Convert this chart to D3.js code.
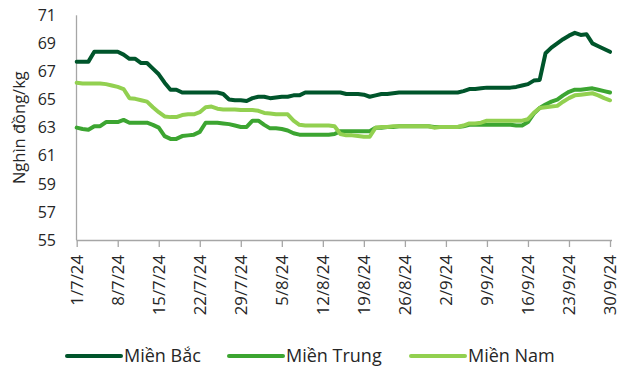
<!DOCTYPE html>
<html>
<head>
<meta charset="utf-8">
<script src="https://cdn.jsdelivr.net/npm/d3@7"></script>
<style>
  html, body { margin: 0; padding: 0; background: #fff; }
  svg { display: block; font-family: "Segoe UI", "Open Sans", "Noto Sans", sans-serif; }
</style>
</head>
<body>
<svg id="chart" width="623" height="368"></svg>
<script>
// Daily pig price by region, 1/7/2024 - 30/9/2024 (thousand VND/kg)
const startDate = new Date(2024, 6, 1);
const dayCount = 92;

const bac = [
  67.7, 67.7, 67.7, 68.4, 68.4, 68.4, 68.4, 68.4, 68.2, 67.9,
  67.9, 67.6, 67.6, 67.2, 66.8, 66.2, 65.7, 65.7, 65.5, 65.5,
  65.5, 65.5, 65.5, 65.5, 65.5, 65.4, 65.0, 64.95, 64.95, 64.9,
  65.1, 65.2, 65.2, 65.1, 65.15, 65.2, 65.2, 65.3, 65.3, 65.5,
  65.5, 65.5, 65.5, 65.5, 65.5, 65.5, 65.4, 65.4, 65.4, 65.35,
  65.2, 65.3, 65.4, 65.4, 65.45, 65.5, 65.5, 65.5, 65.5, 65.5,
  65.5, 65.5, 65.5, 65.5, 65.5, 65.5, 65.6, 65.75, 65.75, 65.8,
  65.85, 65.85, 65.85, 65.85, 65.85, 65.9, 66.0, 66.1, 66.35, 66.4,
  68.3, 68.7, 69.0, 69.3, 69.55, 69.75, 69.6, 69.65, 69.0, 68.8,
  68.6, 68.4
];

const trung = [
  63.0, 62.9, 62.85, 63.1, 63.1, 63.4, 63.4, 63.4, 63.55, 63.35,
  63.35, 63.35, 63.35, 63.2, 63.0, 62.4, 62.2, 62.2, 62.4, 62.45,
  62.5, 62.7, 63.35, 63.35, 63.35, 63.3, 63.25, 63.15, 63.05, 63.05,
  63.5, 63.5, 63.2, 62.95, 62.95, 62.9, 62.8, 62.6, 62.5, 62.5,
  62.5, 62.5, 62.5, 62.5, 62.55, 62.75, 62.75, 62.75, 62.75, 62.75,
  62.75, 63.0, 63.0, 63.05, 63.05, 63.1, 63.1, 63.1, 63.1, 63.1,
  63.1, 63.05, 63.05, 63.05, 63.05, 63.05, 63.1, 63.2, 63.2, 63.2,
  63.2, 63.2, 63.2, 63.2, 63.2, 63.15, 63.15, 63.4, 64.0, 64.4,
  64.65, 64.85, 65.0, 65.3, 65.55, 65.7, 65.7, 65.75, 65.8, 65.7,
  65.6, 65.5
];

const nam = [
  66.2, 66.15, 66.15, 66.15, 66.15, 66.1, 66.0, 65.9, 65.75, 65.1,
  65.05, 64.95, 64.85, 64.45, 64.1, 63.8, 63.75, 63.75, 63.9, 63.95,
  63.95, 64.1, 64.45, 64.5, 64.35, 64.3, 64.3, 64.3, 64.25, 64.25,
  64.25, 64.2, 64.05, 64.0, 63.95, 63.95, 63.95, 63.5, 63.2, 63.15,
  63.15, 63.15, 63.15, 63.15, 63.1, 62.55, 62.45, 62.45, 62.4, 62.35,
  62.35, 63.0, 63.05, 63.05, 63.1, 63.1, 63.1, 63.1, 63.1, 63.1,
  63.1, 63.0, 63.05, 63.05, 63.05, 63.05, 63.15, 63.3, 63.3, 63.35,
  63.5, 63.5, 63.5, 63.5, 63.5, 63.5, 63.5, 63.6, 64.05, 64.4,
  64.45, 64.5, 64.55, 64.85, 65.1, 65.3, 65.35, 65.4, 65.45, 65.3,
  65.1, 64.95
];

const seriesNames = ["Miền Bắc", "Miền Trung", "Miền Nam"];
const seriesColors = ["#00552b", "#3ca531", "#92d050"];
const yTicks = [55, 57, 59, 61, 63, 65, 67, 69, 71];
const yTitle = "Nghìn đồng/kg";

const dates = d3.range(dayCount).map(i => d3.timeDay.offset(startDate, i));
const xTicks = d3.range(0, dayCount, 7).map(i => dates[i]);

const svg = d3.select("#chart");
const x = d3.scaleTime()
  .domain([dates[0], dates[dayCount - 1]])
  .range([76.7, 610]);
const y = d3.scaleLinear().domain([55, 71]).range([240, 15.3]);

const axisColor = "#a6a6a6";
const textColor = "#262626";
const fontStack = "\"Segoe UI\", \"Open Sans\", \"Noto Sans\", sans-serif";

// y axis: line + labels only
svg.append("line")
  .attr("x1", 76.5).attr("x2", 76.5)
  .attr("y1", y(71)).attr("y2", y(55))
  .attr("stroke", axisColor).attr("stroke-width", 1.3);

svg.append("g").selectAll("text")
  .data(yTicks).join("text")
  .attr("x", 56)
  .attr("y", d => y(d))
  .attr("dy", "0.36em")
  .attr("text-anchor", "end")
  .attr("font-size", 16)
  .attr("fill", textColor)
  .text(d => d);

svg.append("text")
  .attr("transform", `translate(19,${(y(55) + y(71)) / 2}) rotate(-90)`)
  .attr("text-anchor", "middle")
  .attr("dy", "0.35em")
  .attr("font-size", 16.5)
  .attr("fill", textColor)
  .text(yTitle);

// x axis
const xAxis = d3.axisBottom(x)
  .tickValues(xTicks)
  .tickSize(7)
  .tickSizeOuter(0)
  .tickFormat(d3.timeFormat("%-d/%-m/%y"));

const gx = svg.append("g")
  .attr("transform", `translate(0,${y(55)})`)
  .call(xAxis);
gx.select(".domain").attr("stroke", axisColor).attr("stroke-width", 1.3)
  .attr("d", `M76.5,0.5H612`);
gx.selectAll(".tick line").attr("stroke", axisColor).attr("stroke-width", 1.3);
gx.selectAll(".tick text")
  .attr("font-size", 16.8)
  .attr("font-family", fontStack)
  .attr("fill", textColor)
  .attr("text-anchor", "end")
  .attr("transform", "translate(0,15) rotate(-90)")
  .attr("x", 0)
  .attr("y", 0)
  .attr("dy", "0.35em");

// lines
const line = d3.line()
  .x((d, i) => x(dates[i]))
  .y(d => y(d));

[bac, trung, nam].forEach((vals, k) => {
  svg.append("path")
    .datum(vals)
    .attr("d", line)
    .attr("fill", "none")
    .attr("stroke", seriesColors[k])
    .attr("stroke-width", 4)
    .attr("stroke-linejoin", "round")
    .attr("stroke-linecap", "round");
});

// legend
const legendItems = [
  { x: 67, w: 54 },
  { x: 229, w: 54 },
  { x: 411, w: 54 }
];
const lg = svg.append("g");
seriesNames.forEach((name, k) => {
  const it = legendItems[k];
  lg.append("line")
    .attr("x1", it.x).attr("x2", it.x + it.w)
    .attr("y1", 356).attr("y2", 356)
    .attr("stroke", seriesColors[k])
    .attr("stroke-width", 4)
    .attr("stroke-linecap", "round");
  lg.append("text")
    .attr("x", it.x + it.w + 3)
    .attr("y", 356)
    .attr("dy", "0.35em")
    .attr("font-size", 18)
    .attr("fill", textColor)
    .text(name);
});
</script>
</body>
</html>
